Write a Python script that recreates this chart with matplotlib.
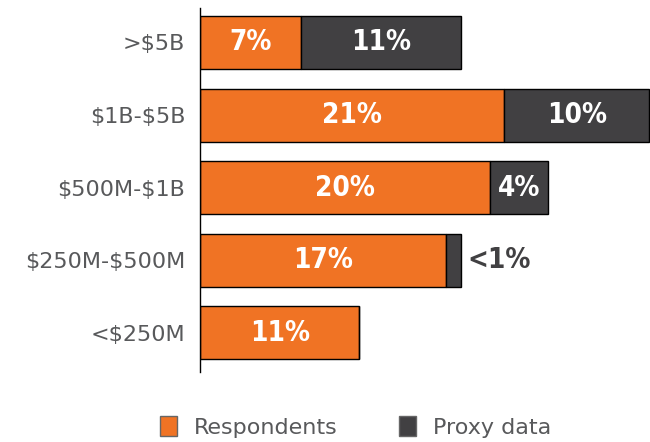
import matplotlib.pyplot as plt
from matplotlib.patches import Patch

plt.rcParams['text.parse_math'] = False

# data
categories = ['>$5B', '$1B-$5B', '$500M-$1B', '$250M-$500M', '<$250M']
respondents = [7, 21, 20, 17, 11]
proxy = [11, 10, 4, 1, 0]
resp_labels = ['7%', '21%', '20%', '17%', '11%']
proxy_labels = ['11%', '10%', '4%', '<1%', '']

orange = '#F07324'
dark = '#414042'
grey_text = '#58595B'

fig = plt.figure(figsize=(6.5, 4.42), dpi=100)
ax = fig.add_axes([200 / 650, 70 / 442, 452 / 650, 364 / 442])

y = range(len(categories))
ax.barh(y, respondents, height=0.73, color=orange, edgecolor='black', linewidth=1)
ax.barh(y, proxy, left=respondents, height=0.73, color=dark, edgecolor='black', linewidth=1)

# value labels
lkw = dict(fontsize=20, fontweight='bold', family='DejaVu Sans', fontstretch='condensed')
for i in y:
    ax.text(respondents[i] / 2, i, resp_labels[i], ha='center', va='center',
            color='white', **lkw)
    if proxy[i] >= 2:
        ax.text(respondents[i] + proxy[i] / 2, i, proxy_labels[i], ha='center', va='center',
                color='white', **lkw)
    elif proxy_labels[i]:
        ax.text(respondents[i] + proxy[i] + 0.45, i, proxy_labels[i], ha='left', va='center',
                color=dark, **lkw)

ax.set_xlim(0, 31.2)
ax.set_ylim(4.54, -0.475)
ax.set_yticks(list(y))
ax.set_yticklabels(categories, fontsize=16, color=grey_text)
ax.tick_params(axis='y', length=0, pad=10.5)
ax.set_xticks([])
for s in ['top', 'right', 'bottom']:
    ax.spines[s].set_visible(False)
ax.spines['left'].set_linewidth(1)

handles = [Patch(facecolor=orange, edgecolor='#666666', label='Respondents'),
           Patch(facecolor=dark, edgecolor='#666666', label='Proxy data')]
fig.legend(handles=handles, loc='center', bbox_to_anchor=(0.547, 0.034), ncol=2,
           frameon=False, fontsize=16, handlelength=0.75, handleheight=1.0,
           columnspacing=2.8, handletextpad=0.75, labelcolor=grey_text)

fig.savefig('out.png', dpi=100)
